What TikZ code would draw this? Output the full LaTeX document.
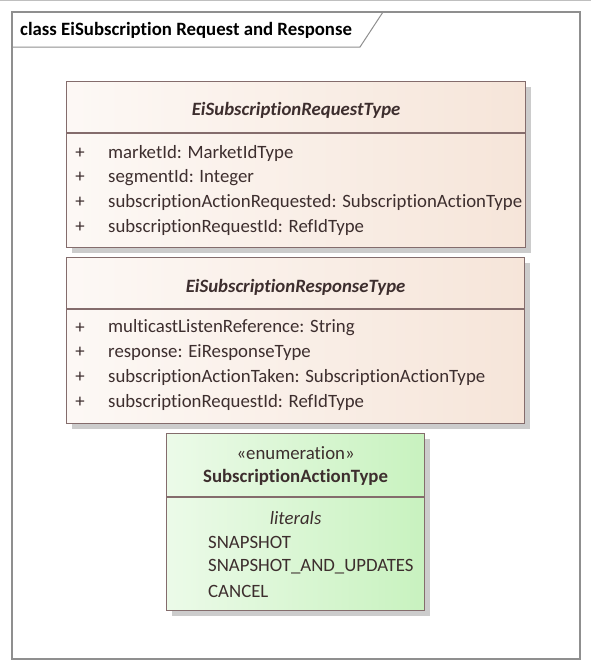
\documentclass[tikz,border=0pt]{standalone}
\usepackage{fontspec}
\setmainfont{Carlito}[Ligatures=CommonOff]
\usetikzlibrary{positioning,shadows,calc}

\definecolor{umlline}{HTML}{846C6C}
\definecolor{umltext}{HTML}{3D2E2E}
\definecolor{framegray}{HTML}{8F8F8F}
\definecolor{classtint}{HTML}{F6E5D9}
\definecolor{enumtint}{HTML}{C8F2BF}

\begin{document}
\begin{tikzpicture}[x=1pt,y=-1pt,
        classbox/.style={draw=umlline,line width=1.2pt,inner sep=0pt,anchor=north west,
            left color=classtint!25,right color=classtint,
            drop shadow={shadow xshift=5pt,shadow yshift=-5pt,fill=black!20,opacity=1}},
        enumbox/.style={classbox,left color=enumtint!35,right color=enumtint},
        sepline/.style={draw=umlline,line width=1.2pt},
        umlfont/.style={font=\fontsize{18.8}{22}\selectfont,text=umltext,inner sep=0pt},
        classname/.style={umlfont,font=\fontsize{18.8}{22}\selectfont\bfseries\itshape},
        member/.style={umlfont,anchor=west},
        plus/.style={umlfont}]
    \useasboundingbox (0,0) rectangle (591,670);
    \draw[black!25,line width=1pt] (0,0.5) -- (591,0.5);

    % diagram frame
    \draw[framegray,line width=1.3pt] (12,12) rectangle (580,659);
    \draw[framegray,line width=1pt] (12,47) -- (360,47) -- (383,12);
    \node[anchor=west,inner sep=0pt,font=\fontsize{18.8}{22}\selectfont\bfseries] (frametitle) at (20,30)
        {class EiSubscription Request and Response};

    % request
    \node[classbox,minimum width=459pt,minimum height=166pt] (req) at (66,81) {};
    \draw[sepline] ([yshift=-52pt]req.north west) -- ([yshift=-52pt]req.north east);
    \node[classname] (reqname) at ([yshift=-29pt]req.north) {EiSubscriptionRequestType};
    \foreach \attr [count=\i from 0] in {marketId: MarketIdType, segmentId: Integer,
            subscriptionActionRequested: SubscriptionActionType, subscriptionRequestId: RefIdType} {
        \node[plus] (reqplus\i) at ($(req.north west)+(14,72+24.7*\i)$) {+};
        \node[member] (reqattr\i) at ($(req.north west)+(42,72+24.7*\i)$) {\attr};
    }

    % response
    \node[classbox,minimum width=458pt,minimum height=166pt] (resp) at (66,257) {};
    \draw[sepline] ([yshift=-52pt]resp.north west) -- ([yshift=-52pt]resp.north east);
    \node[classname] (respname) at ([yshift=-30pt]resp.north) {EiSubscriptionResponseType};
    \foreach \attr [count=\i from 0] in {multicastListenReference: String, response: EiResponseType,
            subscriptionActionTaken: SubscriptionActionType, subscriptionRequestId: RefIdType} {
        \node[plus] (respplus\i) at ($(resp.north west)+(14,71+24.7*\i)$) {+};
        \node[member] (respattr\i) at ($(resp.north west)+(42,71+24.7*\i)$) {\attr};
    }

    % enumeration
    \node[enumbox,minimum width=258pt,minimum height=177pt] (action) at (166,433) {};
    \draw[sepline] ([yshift=-64pt]action.north west) -- ([yshift=-64pt]action.north east);
    \node[umlfont] (stereo) at ([yshift=-20pt]action.north) {«enumeration»};
    \node[umlfont,font=\fontsize{18.8}{22}\selectfont\bfseries] (actionname) at ([yshift=-44pt]action.north) {SubscriptionActionType};
    \node[umlfont,font=\fontsize{18.8}{22}\selectfont\itshape] (literals) at ([yshift=-85pt]action.north) {literals};
    \foreach \lit [count=\i from 0] in {SNAPSHOT, SNAPSHOT\_AND\_UPDATES, CANCEL} {
        \node[member] (lit\i) at ($(action.north west)+(42,109+24.5*\i)$) {\lit};
    }
\end{tikzpicture}
\end{document}
